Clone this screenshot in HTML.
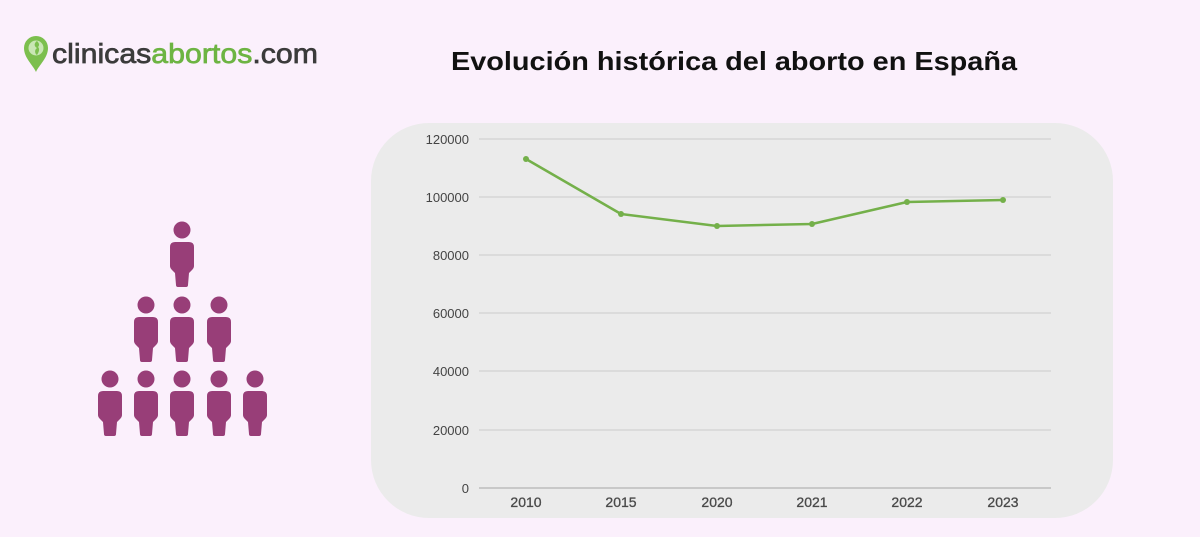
<!DOCTYPE html>
<html><head><meta charset="utf-8"><style>
html,body{margin:0;padding:0;background:#fbf0fc;}
svg{display:block;}
</style></head><body>
<svg width="1200" height="537" viewBox="0 0 1200 537" xmlns="http://www.w3.org/2000/svg">
<rect width="1200" height="537" fill="#fbf0fc"/>
<!-- logo -->
<path d="M36,72 C33,65 24,58 24,48 A12,12 0 0 1 48,48 C48,58 39,65 36,72 Z" fill="#7cbf4e"/>
<circle cx="36" cy="48" r="7.5" fill="#c9e6b4"/>
<path d="M37,41 C33,44 35,47 37,48 C34,50 35,54 37,55 C39,52 40,49 38,47 C40,45 39,43 37,41 Z" fill="#7cbf4e"/>
<text x="52" y="63" font-family="Liberation Sans, sans-serif" font-size="28" stroke-width="0.7" textLength="266" lengthAdjust="spacingAndGlyphs"><tspan fill="#3b3b3b" stroke="#3b3b3b">clinicas</tspan><tspan fill="#6db443" stroke="#6db443">abortos</tspan><tspan fill="#3b3b3b" stroke="#3b3b3b">.com</tspan></text>
<!-- title -->
<text x="451" y="70" font-family="Liberation Sans, sans-serif" font-weight="bold" font-size="26" fill="#111" textLength="566" lengthAdjust="spacingAndGlyphs">Evolución histórica del aborto en España</text>
<!-- people -->
<defs>
<g id="p" fill="#983e78">
<circle cx="0" cy="0" r="8.5"/>
<path d="M-7,12 H7 Q12,12 12,17 V36 Q12,38 10,40 L7,43 L6,55 Q6,57 4,57 H-4 Q-6,57 -6,55 L-7,43 L-10,40 Q-12,38 -12,36 V17 Q-12,12 -7,12 Z"/>
</g>
</defs>
<use href="#p" x="182" y="230"/>
<use href="#p" x="146" y="305"/>
<use href="#p" x="182" y="305"/>
<use href="#p" x="219" y="305"/>
<use href="#p" x="110" y="379"/>
<use href="#p" x="146" y="379"/>
<use href="#p" x="182" y="379"/>
<use href="#p" x="219" y="379"/>
<use href="#p" x="255" y="379"/>
<!-- panel -->
<rect x="371" y="123" width="742" height="395" rx="58" ry="58" fill="#ebebeb"/>
<!-- gridlines -->
<g stroke="#d6d6d6" stroke-width="1.5">
<line x1="479" y1="139" x2="1051" y2="139"/>
<line x1="479" y1="197" x2="1051" y2="197"/>
<line x1="479" y1="255" x2="1051" y2="255"/>
<line x1="479" y1="313" x2="1051" y2="313"/>
<line x1="479" y1="371" x2="1051" y2="371"/>
<line x1="479" y1="430" x2="1051" y2="430"/>
</g>
<line x1="479" y1="488" x2="1051" y2="488" stroke="#c8c8c8" stroke-width="2"/>
<g font-family="Liberation Sans, sans-serif" font-size="13" fill="#444" text-anchor="end">
<text x="469" y="144">120000</text>
<text x="469" y="202">100000</text>
<text x="469" y="260">80000</text>
<text x="469" y="318">60000</text>
<text x="469" y="376">40000</text>
<text x="469" y="435">20000</text>
<text x="469" y="493">0</text>
</g>
<g font-family="Liberation Sans, sans-serif" font-size="14" fill="#4a4a4a" stroke="#4a4a4a" stroke-width="0.3" text-anchor="middle">
<text x="526" y="507">2010</text>
<text x="621" y="507">2015</text>
<text x="717" y="507">2020</text>
<text x="812" y="507">2021</text>
<text x="907" y="507">2022</text>
<text x="1003" y="507">2023</text>
</g>
<polyline points="526,159 621,214 717,226 812,224 907,202 1003,200" fill="none" stroke="#74b04a" stroke-width="2.5" stroke-linejoin="round"/>
<g fill="#74b04a">
<circle cx="526" cy="159" r="3"/>
<circle cx="621" cy="214" r="3"/>
<circle cx="717" cy="226" r="3"/>
<circle cx="812" cy="224" r="3"/>
<circle cx="907" cy="202" r="3"/>
<circle cx="1003" cy="200" r="3"/>
</g>
</svg>
</body></html>
